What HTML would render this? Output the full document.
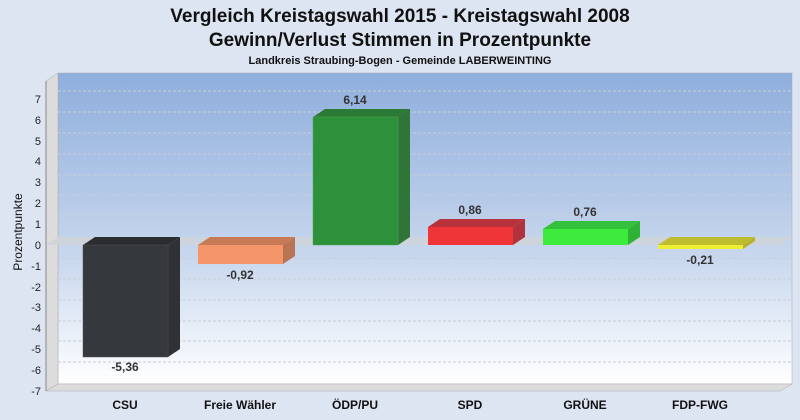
<!DOCTYPE html><html><head><meta charset="utf-8"><style>body{margin:0;background:#dde4f2}svg{display:block;font-family:"Liberation Sans",sans-serif}</style></head><body>
<svg width="800" height="420" xmlns="http://www.w3.org/2000/svg">
<defs><linearGradient id="bg" x1="0" y1="0" x2="0" y2="1"><stop offset="0" stop-color="#8eaedc"/><stop offset="0.6" stop-color="#c9d8ee"/><stop offset="1" stop-color="#ffffff"/></linearGradient></defs>
<rect width="800" height="420" fill="#dde4f2"/>
<text x="400" y="22" font-size="19" font-weight="bold" text-anchor="middle" fill="#111">Vergleich Kreistagswahl 2015 - Kreistagswahl 2008</text>
<text x="400" y="46" font-size="19" font-weight="bold" text-anchor="middle" fill="#111">Gewinn/Verlust Stimmen in Prozentpunkte</text>
<text x="400" y="64" font-size="11" font-weight="bold" text-anchor="middle" fill="#111">Landkreis Straubing-Bogen - Gemeinde LABERWEINTING</text>
<rect x="58" y="73" width="734" height="311" fill="url(#bg)" stroke="#aaa" stroke-width="0.5"/>
<polygon points="46,81 58,73 58,384 46,391" fill="#dcdcdc" stroke="#aaa" stroke-width="0.5"/>
<polygon points="46,391 58,384 792,384 780,391" fill="#dcdcdc" stroke="#aaa" stroke-width="0.5"/>
<g stroke="#c8cdd6" stroke-dasharray="3,2" stroke-width="1">
<line x1="58" y1="91" x2="792" y2="91"/><line x1="58" y1="112" x2="792" y2="112"/><line x1="58" y1="133" x2="792" y2="133"/><line x1="58" y1="154" x2="792" y2="154"/><line x1="58" y1="175" x2="792" y2="175"/><line x1="58" y1="195" x2="792" y2="195"/><line x1="58" y1="216" x2="792" y2="216"/><line x1="58" y1="258" x2="792" y2="258"/><line x1="58" y1="279" x2="792" y2="279"/><line x1="58" y1="300" x2="792" y2="300"/><line x1="58" y1="321" x2="792" y2="321"/><line x1="58" y1="341" x2="792" y2="341"/><line x1="58" y1="362" x2="792" y2="362"/>
</g>
<polygon points="46,245 58,237 792,237 780,245" fill="#cfd3d8" opacity="0.85"/>
<g font-size="11" fill="#222" text-anchor="end">
<text x="41" y="103">7</text><text x="41" y="124">6</text><text x="41" y="145">5</text><text x="41" y="165">4</text><text x="41" y="186">3</text><text x="41" y="207">2</text><text x="41" y="228">1</text><text x="41" y="249">0</text><text x="41" y="270">-1</text><text x="41" y="291">-2</text><text x="41" y="311">-3</text><text x="41" y="332">-4</text><text x="41" y="353">-5</text><text x="41" y="374">-6</text><text x="41" y="395">-7</text>
</g>
<g stroke="#888"><line x1="46" y1="81" x2="46" y2="391"/></g>
<text transform="translate(22,232) rotate(-90)" font-size="12" text-anchor="middle" fill="#111">Prozentpunkte</text>
<!-- bars -->
<g stroke-width="0.5">
<polygon points="83,245 95,237 180,237 168,245" fill="#2a2c30"/><polygon points="168,245 180,237 180,349 168,357" fill="#2f3135"/><rect x="83" y="245" width="85" height="112" fill="#35383c" stroke="#555"/>
<polygon points="198,245 210,237 295,237 283,245" fill="#c77a55"/><polygon points="283,245 295,237 295,256 283,264" fill="#b87454"/><rect x="198" y="245" width="85" height="19" fill="#f4956a"/>
<polygon points="313,117 325,109 410,109 398,117" fill="#2a7a35"/><polygon points="398,117 410,109 410,237 398,245" fill="#2f7537"/><rect x="313" y="117" width="85" height="128" fill="#2d903a" stroke="#5a5"/>
<polygon points="428,227 440,219 525,219 513,227" fill="#b8323c"/><polygon points="513,227 525,219 525,237 513,245" fill="#b0323a"/><rect x="428" y="227" width="85" height="18" fill="#f03538"/>
<polygon points="543,229 555,221 640,221 628,229" fill="#33c03a"/><polygon points="628,229 640,221 640,237 628,245" fill="#2fb336"/><rect x="543" y="229" width="85" height="16" fill="#3deb3d"/>
<polygon points="658,245 670,237 755,237 743,245" fill="#c0bc30"/><polygon points="743,245 755,237 755,241 743,249" fill="#b5b22e"/><rect x="658" y="245" width="85" height="4" fill="#eeee33"/>
</g>
<g font-size="12" font-weight="bold" fill="#333" text-anchor="middle">
<text x="125" y="371">-5,36</text><text x="240" y="279">-0,92</text><text x="355" y="104">6,14</text><text x="470" y="214">0,86</text><text x="585" y="216">0,76</text><text x="700" y="264">-0,21</text>
</g>
<g font-size="12" font-weight="bold" fill="#111" text-anchor="middle">
<text x="125" y="409">CSU</text><text x="240" y="409">Freie Wähler</text><text x="355" y="409">ÖDP/PU</text><text x="470" y="409">SPD</text><text x="585" y="409">GRÜNE</text><text x="700" y="409">FDP-FWG</text>
</g>
</svg></body></html>
